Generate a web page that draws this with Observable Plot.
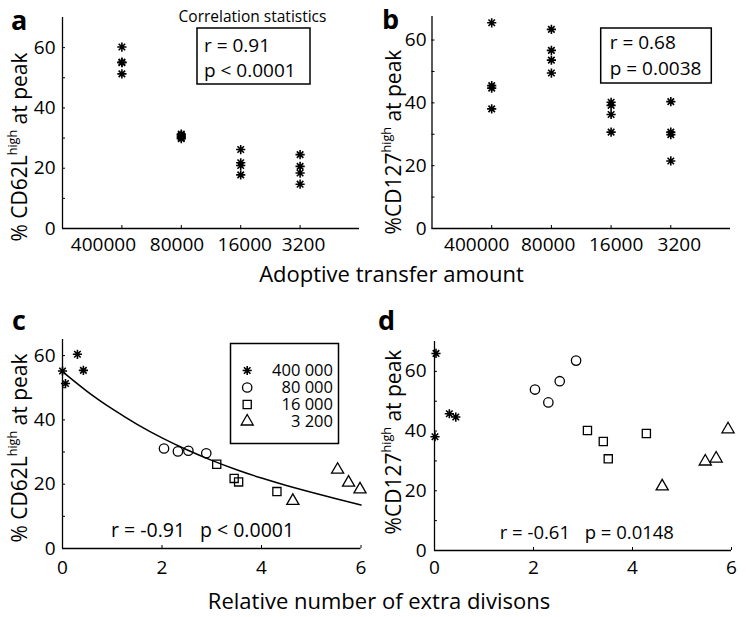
<!DOCTYPE html>
<html><head><meta charset="utf-8">
<script src="https://cdn.jsdelivr.net/npm/d3@7"></script>
<script src="https://cdn.jsdelivr.net/npm/@observablehq/plot@0.6"></script>
<style>
html,body{margin:0;padding:0;background:#fff;}
#fig{position:relative;width:746px;height:617px;overflow:hidden;font-family:"Open Sans",sans-serif;background:#fff;}
</style></head><body><div id="fig"></div>
<script>
// ---------- data ----------
const transferLabels = ["400000", "80000", "16000", "3200"];
const legendLabels = ["400 000", "80 000", "16 000", "3 200"];

// panel a: %CD62L high at peak, by transfer amount
const a400000 = [60.2, 55.2, 55.0, 51.3];
const a80000 = [31.3, 30.6, 30.2, 29.8, 31.0];
const a16000 = [26.2, 21.8, 20.9, 17.8];
const a3200 = [24.5, 20.6, 18.4, 14.7];

// panel b: %CD127 high at peak, by transfer amount
const b400000 = [65.5, 45.5, 44.7, 38.1];
const b80000 = [63.4, 56.7, 53.6, 49.5];
const b16000 = [40.2, 39.2, 36.3, 30.7];
const b3200 = [40.4, 30.7, 29.9, 21.5];

// panel c: %CD62L vs relative number of extra divisions
const c400000x = [0.0, 0.06, 0.30, 0.42], c400000y = [55.2, 51.3, 60.4, 55.4];
const c80000x = [2.04, 2.32, 2.53, 2.89], c80000y = [31.1, 30.2, 30.4, 29.6];
const c16000x = [3.10, 3.45, 3.54, 4.31], c16000y = [26.2, 21.8, 20.7, 17.7];
const c3200x = [4.63, 5.53, 5.75, 5.98], c3200y = [14.8, 24.5, 20.5, 18.4];
const fitX = [0, 0.5, 1, 1.5, 2, 2.5, 3, 3.5, 4, 4.5, 5, 5.5, 6];
const fitY = [55.0, 48.8, 43.4, 38.6, 34.4, 30.7, 27.4, 24.5, 21.9, 19.6, 17.5, 15.5, 13.5];

// panel d: %CD127 vs relative number of extra divisions
const d400000x = [0.03, 0.01, 0.30, 0.43], d400000y = [66.0, 38.1, 45.8, 44.7];
const d80000x = [2.03, 2.30, 2.53, 2.86], d80000y = [53.9, 49.6, 56.7, 63.6];
const d16000x = [3.09, 3.41, 3.51, 4.28], d16000y = [40.2, 36.5, 30.7, 39.2];
const d3200x = [4.60, 5.47, 5.69, 5.93], d3200y = [21.5, 29.8, 30.8, 40.6];

const yTicksMajor = [0, 20, 40, 60];
const yTicksMinor = [10, 30, 50];
const xTicksDiv = [0, 2, 4, 6];
const xTicksTransfer = [1, 2, 3, 4];

// ---------- helpers / styles ----------
const asterisk8 = {
  draw(ctx, size) {
    const r = Math.sqrt(size / Math.PI), d = r * Math.SQRT1_2;
    ctx.moveTo(-r, 0); ctx.lineTo(r, 0);
    ctx.moveTo(0, -r); ctx.lineTo(0, r);
    ctx.moveTo(-d, -d); ctx.lineTo(d, d);
    ctx.moveTo(-d, d); ctx.lineTo(d, -d);
  }
};
const fig = document.getElementById("fig");
const FONT = "'Open Sans', sans-serif";
// horizontal offsets of the category labels relative to their ticks (as in the original figure)
const labelShiftA = [-18.5, -4.3, 4, 3.5];
const labelShiftB = [-15, -3.3, 5, 8.5];

function place(svg, left, top) {
  svg.style.position = "absolute";
  svg.style.left = left + "px";
  svg.style.top = top + "px";
  fig.appendChild(svg);
}
const rows = (groups) => groups.flatMap((vals, i) => vals.map(v => ({pos: xTicksTransfer[i], v})));
const pts = (xs, ys) => xs.map((x, i) => ({x, y: ys[i]}));

function baseAxes(xTicks, xFmt, xPad, yPadLabel) {
  return [
    Plot.ruleX([0], {stroke: "black", strokeWidth: 1.3}),
    Plot.ruleY([0], {stroke: "black", strokeWidth: 1.3}),
    Plot.axisY({ticks: yTicksMajor, tickSize: -3, tickPadding: yPadLabel, label: null, fontSize: 19}),
    Plot.axisY({ticks: yTicksMinor, tickSize: -3, tickFormat: () => "", label: null}),
    Plot.axisX({ticks: xTicks, tickFormat: xFmt, tickSize: -3, tickPadding: xPad, label: null, fontSize: 19})
  ];
}
function categoryLabels(shifts, dy) {
  return xTicksTransfer.map((t, i) => Plot.text([t], {
    x: d => d, frameAnchor: "bottom", lineAnchor: "top", dy, dx: shifts[i],
    text: () => transferLabels[i], fontSize: 19
  }));
}
const plotStyle = {fontFamily: FONT, fontSize: "19px", color: "black", background: "transparent", overflow: "visible"};
const starStyle = {symbol: asterisk8, r: 4.6, fill: "none", stroke: "black", strokeWidth: 1.6};
const hollow = (sym, r) => ({symbol: sym, r, fill: "none", stroke: "black", strokeWidth: 1.3});

// ---------- panel a ----------
place(Plot.plot({
  width: 373, height: 300, marginLeft: 62, marginRight: 14, marginTop: 17, marginBottom: 72,
  x: {domain: [0, 5]}, y: {domain: [0, 70]}, style: plotStyle,
  marks: [
    ...baseAxes(xTicksTransfer, () => "", 11, 10),
    ...categoryLabels(labelShiftA, 9),
    Plot.dot(rows([a400000, a80000, a16000, a3200]), {x: "pos", y: "v", ...starStyle})
  ]
}), 0, 0);

// ---------- panel b ----------
place(Plot.plot({
  width: 373, height: 300, marginLeft: 58.5, marginRight: 16, marginTop: 16, marginBottom: 72,
  x: {domain: [0, 5]}, y: {domain: [0, 67.5]}, style: plotStyle,
  marks: [
    ...baseAxes(xTicksTransfer, () => "", 12, 8.5),
    ...categoryLabels(labelShiftB, 9),
    Plot.dot(rows([b400000, b80000, b16000, b3200]), {x: "pos", y: "v", ...starStyle})
  ]
}), 373, 0);

// ---------- panel c ----------
place(Plot.plot({
  width: 373, height: 317, marginLeft: 62, marginRight: 12.5, marginTop: 39, marginBottom: 69,
  x: {domain: [0, 6]}, y: {domain: [0, 65]}, style: plotStyle,
  marks: [
    ...baseAxes(xTicksDiv, d => String(d), 15, 10),
    Plot.line(pts(fitX, fitY), {x: "x", y: "y", curve: "natural", stroke: "black", strokeWidth: 1.5}),
    Plot.dot(pts(c400000x, c400000y), {x: "x", y: "y", ...starStyle}),
    Plot.dot(pts(c80000x, c80000y), {x: "x", y: "y", ...hollow("circle", 4.7)}),
    Plot.dot(pts(c16000x, c16000y), {x: "x", y: "y", ...hollow("square", 4.6)}),
    Plot.dot(pts(c3200x, c3200y), {x: "x", y: "y", ...hollow("triangle", 4.5)})
  ]
}), 0, 300);

// ---------- panel d ----------
place(Plot.plot({
  width: 373, height: 317, marginLeft: 61, marginRight: 15, marginTop: 41, marginBottom: 67,
  x: {domain: [0, 6]}, y: {domain: [0, 70]}, style: plotStyle,
  marks: [
    ...baseAxes(xTicksDiv, d => String(d), 13, 11),
    Plot.dot(pts(d400000x, d400000y), {x: "x", y: "y", ...starStyle}),
    Plot.dot(pts(d80000x, d80000y), {x: "x", y: "y", ...hollow("circle", 4.7)}),
    Plot.dot(pts(d16000x, d16000y), {x: "x", y: "y", ...hollow("square", 4.6)}),
    Plot.dot(pts(d3200x, d3200y), {x: "x", y: "y", ...hollow("triangle", 4.5)})
  ]
}), 373, 300);

// ---------- legend for panel c (symbols through Plot; labels placed with its y scale) ----------
const legendRows = legendLabels.map((label, i) => ({label, i}));
const LEG_LEFT = 230, LEG_TOP = 343, LEG_W = 108;
const legendSvg = Plot.plot({
  width: LEG_W, height: 100, margin: 0,
  x: {domain: [0, 1], axis: null}, y: {type: "point", domain: legendLabels, range: [18.5, 87.2], axis: null},
  style: {...plotStyle, fontSize: "16px"},
  marks: [
    Plot.frame({stroke: "black", strokeWidth: 1.5}),
    Plot.dot(legendRows.filter(d => d.i === 0), {y: "label", frameAnchor: "left", dx: 16.7, ...starStyle}),
    Plot.dot(legendRows.filter(d => d.i === 1), {y: "label", frameAnchor: "left", dx: 16.7, ...hollow("circle", 4.7)}),
    Plot.dot(legendRows.filter(d => d.i === 2), {y: "label", frameAnchor: "left", dx: 16.7, ...hollow("square", 4.6)}),
    Plot.dot(legendRows.filter(d => d.i === 3), {y: "label", frameAnchor: "left", dx: 16.7, ...hollow("triangle", 4.5)})
  ]
});
place(legendSvg, LEG_LEFT, LEG_TOP);
const legendY = legendSvg.scale("y");

// ---------- overlay text ----------
const ov = d3.select(fig).append("svg")
  .attr("width", 746).attr("height", 617)
  .style("position", "absolute").style("left", 0).style("top", 0)
  .style("font-family", FONT).style("pointer-events", "none");

function txt(x, y, s, size, opts = {}) {
  const t = ov.append("text").attr("x", x).attr("y", y).attr("font-size", size)
    .attr("fill", "black").attr("text-anchor", opts.anchor || "start").text(s);
  if (opts.bold) t.attr("font-weight", "bold");
  return t;
}
function box(x, y, w, h) {
  ov.append("rect").attr("x", x).attr("y", y).attr("width", w).attr("height", h)
    .attr("fill", "none").attr("stroke", "black").attr("stroke-width", 1.5);
}
function ylabel(xBase, yCenter, main, size) {
  const g = ov.append("g").attr("transform", `translate(${xBase},${yCenter}) rotate(-90)`);
  const t = g.append("text").attr("text-anchor", "middle").attr("font-size", size).attr("fill", "black");
  t.append("tspan").text(main);
  t.append("tspan").attr("font-size", size * 0.6).attr("dy", -size * 0.5).text("high");
  t.append("tspan").attr("dy", size * 0.5).text(" at peak");
}

// legend labels
legendLabels.forEach(label => {
  txt(LEG_LEFT + LEG_W - 5, LEG_TOP + legendY.apply(label) + 5.8, label, 16.5, {anchor: "end"});
});

// panel letters
txt(11, 30, "a", 27, {bold: true});
txt(382, 29, "b", 27, {bold: true});
txt(12, 330, "c", 27, {bold: true});
txt(378, 330, "d", 27, {bold: true});

// y labels
ylabel(27.3, 147, "% CD62L", 21);
ylabel(401.3, 142, "%CD127", 21);
ylabel(27.3, 448, "% CD62L", 21);
ylabel(401.3, 442, "%CD127", 21);

// stats in a and b
txt(252.5, 22, "Correlation statistics", 15.5, {anchor: "middle"});
box(197, 28, 113, 56);
txt(204, 52, "r = 0.91", 19);
txt(204, 77, "p < 0.0001", 19);
box(600.7, 28, 110.6, 55);
txt(609.7, 48.5, "r = 0.68", 19);
txt(609.7, 75, "p = 0.0038", 19);

// stats in c and d
txt(111, 537, "r = -0.91", 19.5);
txt(200, 537, "p < 0.0001", 19.5);
txt(499.7, 539, "r = -0.61", 18.5);
txt(584.7, 539, "p = 0.0148", 18.5);

// x titles
txt(391.5, 282, "Adoptive transfer amount", 22, {anchor: "middle"});
txt(379, 609, "Relative number of extra divisons", 22, {anchor: "middle"});
</script></body></html>
